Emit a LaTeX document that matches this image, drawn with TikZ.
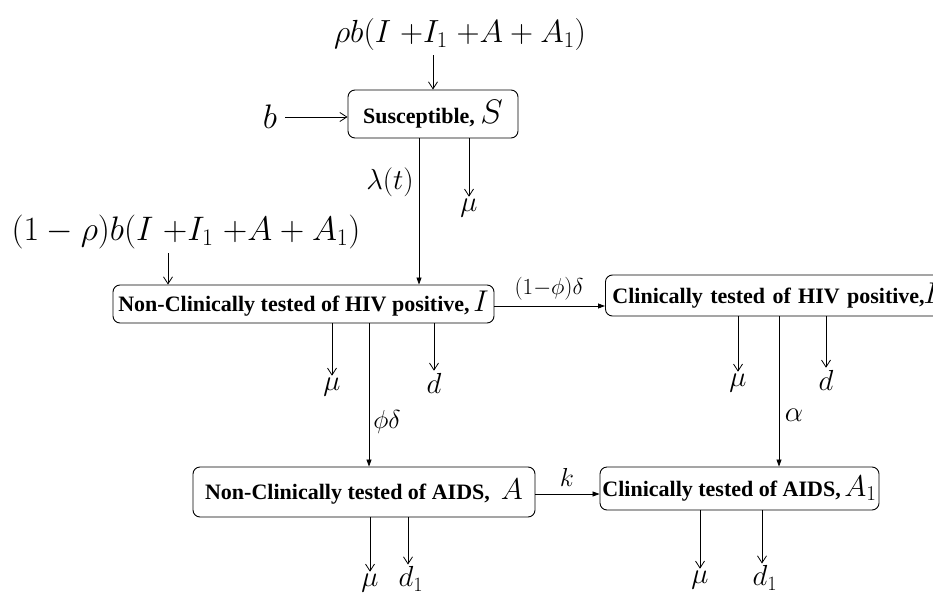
\RequirePackage{fix-cm}
\documentclass[tikz,border=0pt]{standalone}
\usepackage{fontspec}
\setmainfont{Liberation Serif}
\usetikzlibrary{arrows.meta}
\newcommand{\boxmath}[1]{{\fontsize{30pt}{30pt}\selectfont$#1$}}
\begin{document}
\begin{tikzpicture}[x=1pt,y=-1pt,
  box/.style={draw, rounded corners=7pt, line width=0.9pt,
    font=\fontsize{22pt}{24pt}\selectfont\bfseries, inner sep=0pt},
  oarr/.style={-{Straight Barb[length=7pt,width=9pt]}, line width=0.8pt},
  farr/.style={-{Triangle[length=7pt,width=5pt]}, line width=0.8pt},
  lab/.style={font=\fontsize{29pt}{31pt}\selectfont, inner sep=2pt},
  biglab/.style={font=\fontsize{32pt}{34pt}\selectfont, inner sep=0pt}]
\useasboundingbox (0,0) rectangle (933,596);

% boxes
\node[box, minimum width=170pt, minimum height=48pt] (S) at (433,114)
  {Susceptible, {\fontsize{34pt}{34pt}\selectfont$S$}};
\node[box, minimum width=381pt, minimum height=38pt] (I) at (303.5,304)
  {Non-Clinically tested of HIV positive,\,\boxmath{I}};
\node[box, anchor=west, minimum height=41pt, text width=380pt, align=left,
  inner xsep=7pt] (I1) at (605,295.5)
  {Clinically tested of HIV positive,\kern-1pt\boxmath{I_1}};
\node[box, minimum width=342pt, minimum height=50pt] (A) at (364,492)
  {Non-Clinically tested of AIDS,\ \ \boxmath{A}};
\node[box, minimum width=279pt, minimum height=43pt] (A1) at (739.5,488.5)
  {Clinically tested of AIDS,\,\boxmath{A_1}};

% top inputs
\node[biglab] (top) at (460,35) {$\rho b(I\;{+}I_1\;{+}A + A_1)$};
\draw[oarr, shorten <=4pt] (top.south -| S.north) -- (S.north);
\node[lab, font=\fontsize{34pt}{34pt}\selectfont] (b) at (270,117) {$b$};
\draw[oarr, shorten <=6pt] (b.east) -- (S.west |- b.east);

\node[biglab, font=\fontsize{34pt}{36pt}\selectfont] (top2) at (186,232) {$(1-\rho)b(I\;{+}I_1\;{+}A + A_1)$};
\coordinate (x2) at (168,0);
\draw[oarr, shorten <=4pt] (top2.south -| x2) -- (I.north -| x2);

% from S
\coordinate (xlam) at (419,0);
\draw[farr] (S.south -| xlam) -- (I.north -| xlam);
\node[lab] (lam) at (390,182) {$\lambda(t)$};
\node[lab] (muS) at (469,208) {$\mu$};
\draw[oarr] (S.south -| muS) -- (muS.north);

% from I
\node[lab] (muI) at (332,387) {$\mu$};
\draw[oarr] (I.south -| muI) -- (muI.north);
\node[lab] (dI) at (434,383) {$d$};
\draw[oarr] (I.south -| dI) -- (dI.north);
\coordinate (xphi) at (369,0);
\draw[farr] (I.south -| xphi) -- (A.north -| xphi);
\node[lab, font=\fontsize{26pt}{28pt}\selectfont] (phd) at (387,422) {$\phi\delta$};
\coordinate (yI) at (0,306);
\draw[farr] (I.east |- yI) -- (I1.west |- yI);
\node[lab, font=\fontsize{23pt}{25pt}\selectfont] (omp) at (549,289) {$(1{-}\phi)\delta$};

% from I1
\node[lab] (muI1) at (738,383) {$\mu$};
\draw[oarr] (I1.south -| muI1) -- (muI1.north);
\node[lab] (dI1) at (826,380) {$d$};
\draw[oarr] (I1.south -| dI1) -- (dI1.north);
\coordinate (xal) at (779,0);
\draw[farr] (I1.south -| xal) -- (A1.north -| xal);
\node[lab] (al) at (794,415) {$\alpha$};

% A -> A1
\coordinate (yk) at (0,494);
\draw[farr] (A.east |- yk) -- (A1.west |- yk);
\node[lab, font=\fontsize{26pt}{28pt}\selectfont] (k) at (567,477) {$k$};

% from A
\node[lab] (muA) at (370,583) {$\mu$};
\draw[oarr] (A.south -| muA) -- (muA.north);
\node[lab] (d1A) at (411,579) {$d_1$};
\coordinate (xd1A) at (408,0);
\draw[oarr] (A.south -| xd1A) -- (d1A.north -| xd1A);

% from A1
\node[lab] (muA1) at (700,580) {$\mu$};
\draw[oarr] (A1.south -| muA1) -- (muA1.north);
\node[lab] (d1A1) at (765,578) {$d_1$};
\coordinate (xd1B) at (762,0);
\draw[oarr] (A1.south -| xd1B) -- (d1A1.north -| xd1B);
\end{tikzpicture}
\end{document}
